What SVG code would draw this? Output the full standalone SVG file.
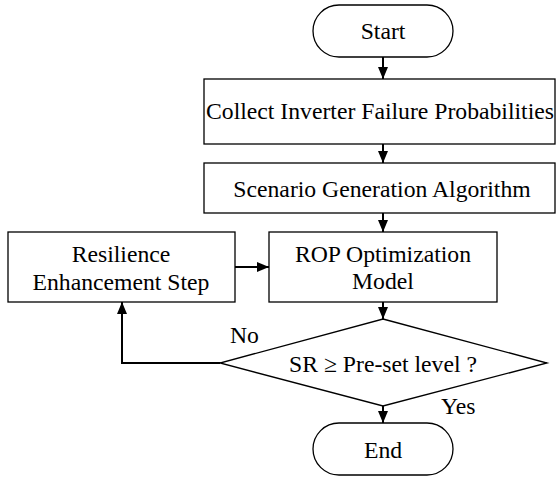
<svg xmlns="http://www.w3.org/2000/svg" width="557" height="478" viewBox="0 0 557 478">
<defs>
<marker id="arr" viewBox="0 0 12 10" refX="12" refY="5" markerWidth="12" markerHeight="10" markerUnits="userSpaceOnUse" orient="auto">
<path d="M0,0 L12,5 L0,10 Z" fill="#000"/>
</marker>
</defs>
<style>
.shape{fill:#fff;stroke:#000;stroke-width:1.3}
.t{font-family:"Liberation Serif","Times New Roman",serif;font-size:23.7px;fill:#000;text-anchor:middle}
.l{font-family:"Liberation Serif","Times New Roman",serif;font-size:23.7px;fill:#000}
.c{fill:none;stroke:#000;stroke-width:2;marker-end:url(#arr)}
</style>
<rect width="557" height="478" fill="#fff"/>
<g id="connectors">
<line class="c" x1="383" y1="57" x2="383" y2="79"/>
<line class="c" x1="383" y1="144" x2="383" y2="163"/>
<line class="c" x1="383" y1="213" x2="383" y2="232"/>
<line class="c" x1="235" y1="267" x2="269" y2="267"/>
<line class="c" x1="383" y1="302" x2="383" y2="319"/>
<polyline class="c" points="220,363 122,363 122,302"/>
<line class="c" x1="383" y1="406" x2="383" y2="423"/>
</g>
<g id="start">
<rect class="shape" x="313" y="5" width="140" height="52" rx="26" ry="26"/>
<text class="t" x="383" y="39">Start</text>
</g>
<g id="collect">
<rect class="shape" x="204" y="79" width="351" height="65"/>
<text class="t" x="380" y="119">Collect Inverter Failure Probabilities</text>
</g>
<g id="scenario">
<rect class="shape" x="204" y="163" width="351" height="50"/>
<text class="t" x="382" y="197">Scenario Generation Algorithm</text>
</g>
<g id="resilience">
<rect class="shape" x="8" y="232" width="227" height="70"/>
<text class="t" x="121" y="262">Resilience</text>
<text class="t" x="121" y="290">Enhancement Step</text>
</g>
<g id="rop">
<rect class="shape" x="269" y="232" width="228" height="70"/>
<text class="t" x="383" y="262">ROP Optimization</text>
<text class="t" x="383" y="289">Model</text>
</g>
<g id="decision">
<polygon class="shape" points="383,319 547,363 383,406 220,363"/>
<text class="t" x="383" y="372">SR ≥ Pre-set level ?</text>
</g>
<g id="labels">
<text class="l" x="230" y="343">No</text>
<text class="l" x="441" y="414">Yes</text>
</g>
<g id="end">
<rect class="shape" x="313" y="423" width="140" height="52" rx="26" ry="26"/>
<text class="t" x="383" y="458">End</text>
</g>
</svg>
